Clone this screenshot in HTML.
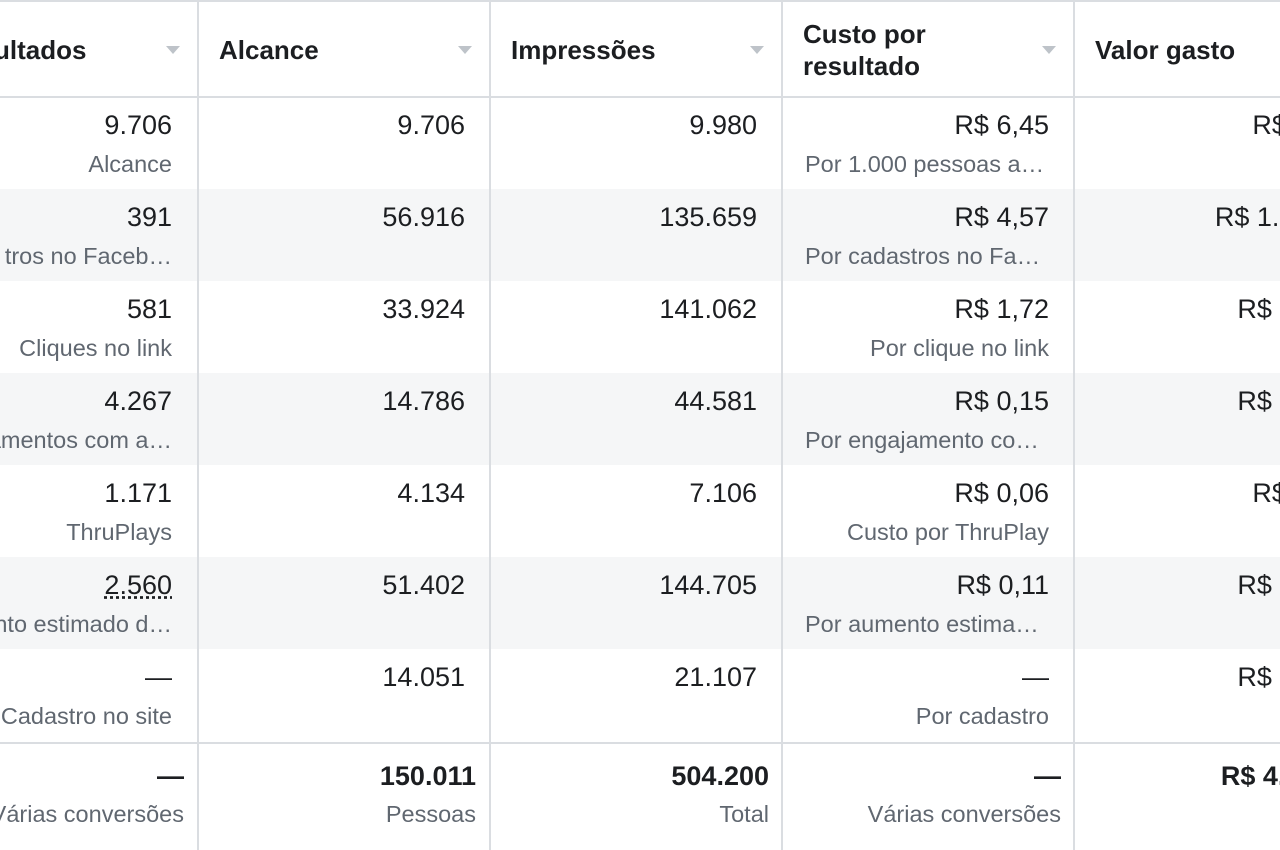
<!DOCTYPE html>
<html><head><meta charset="utf-8"><style>
html,body{margin:0;width:1280px;height:850px;overflow:hidden}
body{background:#fff;font-family:"Liberation Sans",Arial,sans-serif;color:#1c1e21}
#wrap{position:relative;width:1280px;height:850px;overflow:hidden}
.vl{position:absolute;top:0;height:850px;width:2px;background:#dadde1}
.hl{position:absolute;left:0;width:1280px;height:2px;background:#dadde1}
.band{position:absolute;left:0;width:1280px;height:92px;background:#f5f6f7}
.h{position:absolute;font-weight:bold;font-size:26px;line-height:32px;white-space:nowrap}
.arr{position:absolute;width:0;height:0;border-left:7px solid transparent;border-right:7px solid transparent;border-top:8px solid #bec3c9}
.v{position:absolute;text-align:right;font-size:27px;white-space:nowrap;overflow:hidden}
.s{position:absolute;text-align:right;font-size:23.5px;color:#606770;white-space:nowrap;overflow:hidden;text-overflow:ellipsis}
.b{font-weight:bold}
</style></head><body>
<div id="wrap">
<div class="band" style="top:189px"></div>
<div class="band" style="top:373px"></div>
<div class="band" style="top:557px"></div>
<div class="hl" style="top:0"></div>
<div class="hl" style="top:96px"></div>
<div class="hl" style="top:742px"></div>
<div class="vl" style="left:197px"></div>
<div class="vl" style="left:489px"></div>
<div class="vl" style="left:781px"></div>
<div class="vl" style="left:1073px"></div>

<div class="h" style="left:-6px;top:34px">ultados</div>
<div class="arr" style="left:166px;top:46px"></div>
<div class="h" style="left:219px;top:34px">Alcance</div>
<div class="arr" style="left:458px;top:46px"></div>
<div class="h" style="left:511px;top:34px">Impressões</div>
<div class="arr" style="left:750px;top:46px"></div>
<div class="h" style="left:803px;top:18px">Custo por<br>resultado</div>
<div class="arr" style="left:1042px;top:46px"></div>
<div class="h" style="left:1095px;top:34px">Valor gasto</div>
</div>
<script>
const c0=["9.706","391","581","4.267","1.171","2.560","—"];
const c0s=["Alcance","tros no Faceb…","Cliques no link","amentos com a…","ThruPlays","nto estimado d…","Cadastro no site"];
const c1=["9.706","56.916","33.924","14.786","4.134","51.402","14.051"];
const c2=["9.980","135.659","141.062","44.581","7.106","144.705","21.107"];
const c3=["R$ 6,45","R$ 4,57","R$ 1,72","R$ 0,15","R$ 0,06","R$ 0,11","—"];
const c3s=["Por 1.000 pessoas alcançadas","Por cadastros no Facebook","Por clique no link","Por engajamento com a publicação","Custo por ThruPlay","Por aumento estimado da lembrança","Por cadastro"];
const c4=["R$ 62,60","R$ 1.786,87","R$ 999,32","R$ 640,05","R$ 70,26","R$ 281,60","R$ 352,80"];
const tot=["—","150.011","504.200","—","R$ 4.193,50"];
const tots=["Várias conversões","Pessoas","Total","Várias conversões","Total"];
const rights=[172,465,757,1049,1362];
const wrap=document.getElementById('wrap');
function add(cls,txt,right,top,w,name){
  const d=document.createElement('div');
  d.className=cls;d.textContent=txt;
  d.style.left=(right-w)+'px';d.style.width=w+'px';d.style.top=top+'px';
  
  
  wrap.appendChild(d);return d;
}
for(let i=0;i<7;i++){
  const y=97+i*92;
  const cols=[c0[i],c1[i],c2[i],c3[i],c4[i]];
  cols.forEach((t,j)=>{const d=add('v',t,rights[j],y+13,j==0?240:260,'cell-value');
    if(j==0&&i==5){d.style.textDecoration='underline dotted';}});
  const s0=add('s',c0s[i],rights[0],y+54,240,'cell-sublabel');
  s0.style.textOverflow='clip';
  add('s',c3s[i],rights[3],y+54,244,'cell-sublabel');
}
const trights=[184,476,769,1061,1368];
tot.forEach((t,j)=>{add('v b',t,trights[j],761,j==0?240:270,'total-value');
  const s=add('s',tots[j],trights[j],801,j==0?240:270,'total-sublabel');s.style.textOverflow='clip';});
</script>
</body></html>
